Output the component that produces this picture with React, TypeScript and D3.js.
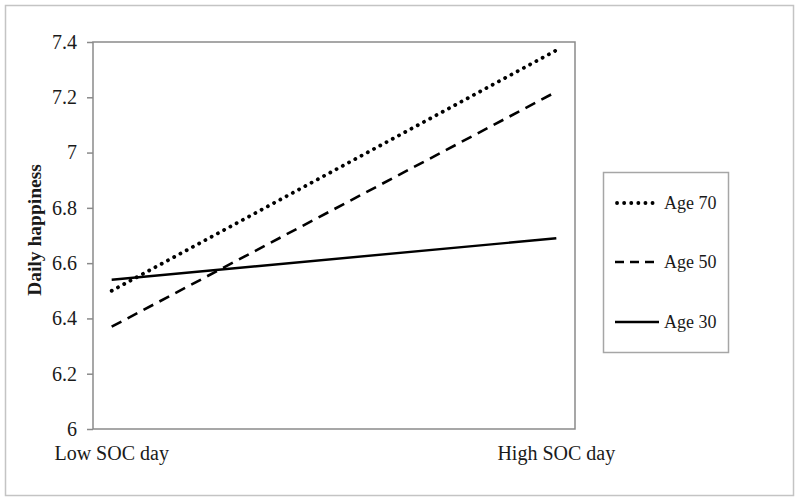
import React, { useEffect, useRef } from "react";
import * as d3 from "d3";

// data
const categories = ["Low SOC day", "High SOC day"];
const seriesNames = ["Age 70", "Age 50", "Age 30"];
const age70 = [6.5, 7.37];
const age50 = [6.37, 7.22];
const age30 = [6.54, 6.69];
const yTicks = [6, 6.2, 6.4, 6.6, 6.8, 7, 7.2, 7.4];

const W = 800, H = 501;
const font = "'Liberation Serif', 'Times New Roman', serif";

export default function App() {
  const ref = useRef<SVGSVGElement>(null);

  useEffect(() => {
    const svg = d3.select(ref.current);
    svg.selectAll("*").remove();

    // plot box
    const left = 93, right = 575, top = 42, bottom = 429;

    const x = d3.scalePoint<string>()
      .domain(categories)
      .range([left, right])
      .padding(0.042);

    const y = d3.scaleLinear()
      .domain([6, 7.4])
      .range([bottom, top]);

    // outer frame
    svg.append("rect")
      .attr("x", 5.5).attr("y", 5.5)
      .attr("width", 788).attr("height", 490)
      .attr("fill", "#fff")
      .attr("stroke", "#c4c4c4")
      .attr("stroke-width", 1.5);

    // plot frame
    svg.append("rect")
      .attr("x", left).attr("y", top)
      .attr("width", right - left).attr("height", bottom - top)
      .attr("fill", "none")
      .attr("stroke", "#8a8a8a")
      .attr("stroke-width", 1.5);

    // y axis
    const yAxis = d3.axisLeft(y)
      .tickValues(yTicks)
      .tickSize(6)
      .tickPadding(10)
      .tickFormat((d) => String(+(+d).toFixed(1)));

    const gy = svg.append("g")
      .attr("transform", `translate(${left},0)`)
      .call(yAxis);
    gy.select(".domain").remove();
    gy.selectAll(".tick line").attr("stroke", "#8a8a8a").attr("stroke-width", 1.5);
    gy.selectAll(".tick text")
      .attr("font-family", font)
      .attr("font-size", 20)
      .attr("fill", "#1a1a1a");

    // category labels
    svg.append("g")
      .selectAll("text")
      .data(categories)
      .join("text")
      .attr("x", (d) => x(d)!)
      .attr("y", 460)
      .attr("text-anchor", "middle")
      .attr("font-family", font)
      .attr("font-size", 20)
      .attr("fill", "#1a1a1a")
      .text((d) => d);

    // y title
    svg.append("text")
      .attr("transform", `translate(41,230) rotate(-90)`)
      .attr("text-anchor", "middle")
      .attr("font-family", font)
      .attr("font-size", 19.5)
      .attr("font-weight", "bold")
      .attr("fill", "#1a1a1a")
      .text("Daily happiness");

    const styles = [
      { dash: "0.1 7", cap: "round", width: 3.8 },
      { dash: "11 7", cap: "butt", width: 2.6 },
      { dash: null, cap: "butt", width: 2.4 },
    ];
    const allSeries = [age70, age50, age30];

    const line = d3.line<number>()
      .x((d, i) => x(categories[i])!)
      .y((d) => y(d));

    allSeries.forEach((vals, k) => {
      svg.append("path")
        .datum(vals)
        .attr("d", line)
        .attr("fill", "none")
        .attr("stroke", "#000")
        .attr("stroke-width", styles[k].width)
        .attr("stroke-linecap", styles[k].cap)
        .attr("stroke-dasharray", styles[k].dash);
    });

    // legend
    const lg = svg.append("g");
    lg.append("rect")
      .attr("x", 603.5).attr("y", 172.5)
      .attr("width", 125).attr("height", 180)
      .attr("fill", "#fff")
      .attr("stroke", "#a6a6a6")
      .attr("stroke-width", 1.5);

    const legendY = [203, 262, 322];
    const legendDash = ["0.1 7", "9 6", null];
    seriesNames.forEach((name, k) => {
      lg.append("line")
        .attr("x1", k === 0 ? 617 : 615).attr("x2", k === 0 ? 655 : 659)
        .attr("y1", legendY[k]).attr("y2", legendY[k])
        .attr("stroke", "#000")
        .attr("stroke-width", styles[k].width)
        .attr("stroke-linecap", styles[k].cap)
        .attr("stroke-dasharray", legendDash[k]);
      lg.append("text")
        .attr("x", 664)
        .attr("y", legendY[k])
        .attr("dy", "0.33em")
        .attr("font-family", font)
        .attr("font-size", 18)
        .attr("fill", "#1a1a1a")
        .text(name);
    });
  }, []);

  return (
    <svg
      ref={ref}
      width={W}
      height={H}
      style={{ position: "absolute", left: 0, top: 0, display: "block", background: "#fff" }}
    />
  );
}
